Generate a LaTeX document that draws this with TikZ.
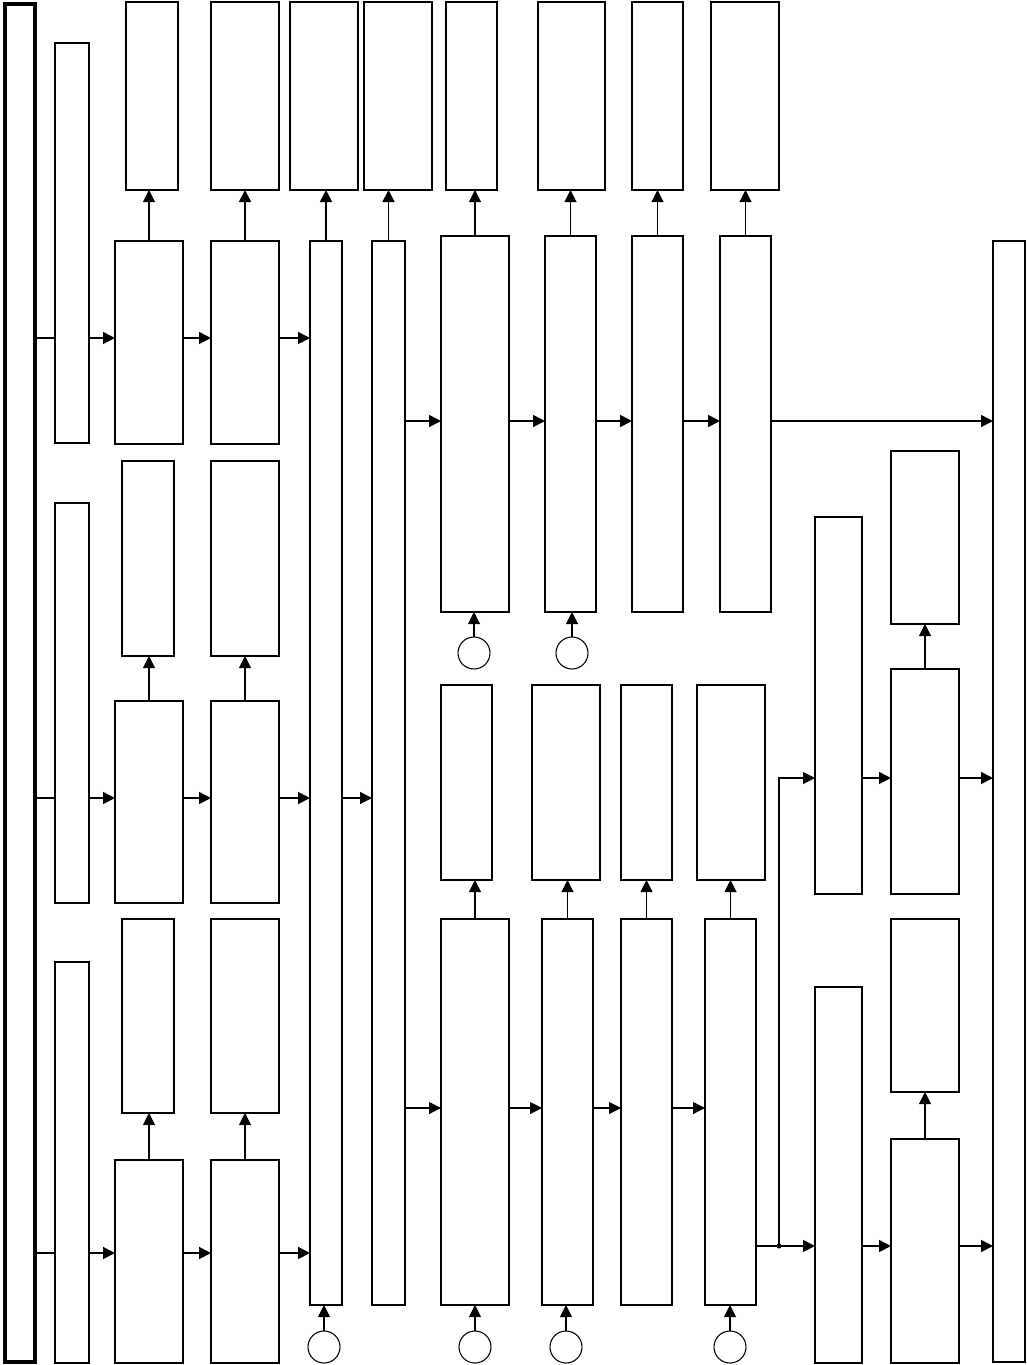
\documentclass[tikz,border=0pt]{standalone}
\usetikzlibrary{arrows.meta}
\tikzset{
  box/.style={draw, line width=0.8pt, inner sep=0pt, outer sep=0pt, fill=white},
  arr/.style={-{Triangle[length=9pt,width=9pt]}, line width=1.3pt},
  thinarr/.style={-{Triangle[length=9pt,width=9pt]}, line width=0.8pt},
  plain/.style={line width=1.3pt},
  circ/.style={draw, circle, line width=0.8pt, minimum size=24pt, inner sep=0pt, outer sep=0pt}
}
\newcommand\mybox[6][]{%
  \node[box,#1, minimum width={(#5-#3)*0.75pt}, minimum height={(#6-#4)*0.75pt}]
    (#2) at ({(#3+#5)/2},{(#4+#6)/2}) {};}
\begin{document}
\begin{tikzpicture}[x=0.75pt,y=-0.75pt]
\useasboundingbox (0,0) rectangle (1027,1365);
% big boxes
\mybox[line width=2.4pt]{L}{5}{4}{35}{1362}
\mybox[line width=1.6pt]{R}{993}{241}{1025}{1362}
% column 1
\mybox{c1a}{55}{43}{89}{443}
\mybox{c1b}{55}{503}{89}{903}
\mybox{c1c}{55}{962}{89}{1363}
% rows
\mybox{a2}{115}{241}{183}{444}
\mybox[line width=1.1pt]{a3}{211}{241}{279}{444}
\mybox{b2}{115}{701}{183}{903}
\mybox{b3}{211}{701}{279}{903}
\mybox{d2}{115}{1160}{183}{1363}
\mybox{d3}{211}{1160}{279}{1363}
\mybox{T1}{310}{241}{342}{1305}
\mybox{T2}{372}{241}{405}{1305}
% top outputs
\mybox{o1}{126}{2}{178}{190}
\mybox[line width=1.1pt]{o2}{211}{2}{279}{190}
\mybox[line width=1.1pt]{o3}{290}{2}{358}{190}
\mybox{o4}{364}{2}{432}{190}
\mybox[line width=1.1pt]{o5}{446}{2}{497}{190}
\mybox{o6}{538}{2}{605}{190}
\mybox{o7}{632}{2}{683}{190}
\mybox{o8}{711}{2}{779}{190}
% row 1 right chain
\mybox{e1}{441}{236}{509}{612}
\mybox{e2}{545}{236}{596}{612}
\mybox{e3}{632}{236}{683}{612}
\mybox{e4}{720}{236}{771}{612}
% row 2 and 3 outputs
\mybox{bo2}{122}{461}{174}{656}
\mybox{bo3}{211}{461}{279}{656}
\mybox{do2}{122}{919}{174}{1113}
\mybox{do3}{211}{919}{279}{1113}
% lower right chain
\mybox{f1}{441}{919}{509}{1305}
\mybox{f2}{542}{919}{593}{1305}
\mybox{f3}{621}{919}{672}{1305}
\mybox{f4}{705}{919}{756}{1305}
\mybox{fo1}{441}{685}{492}{880}
\mybox{fo2}{532}{685}{600}{880}
\mybox{fo3}{621}{685}{672}{880}
\mybox{fo4}{697}{685}{765}{880}
% right side
\mybox{g1}{815}{517}{862}{894}
\mybox{g2}{891}{669}{959}{894}
\mybox{go2}{891}{451}{959}{624}
\mybox{h1}{815}{987}{862}{1363}
\mybox{h2}{891}{1139}{959}{1363}
\mybox{ho2}{891}{919}{959}{1092}
% circles
\node[circ] (k1) at (474,653) {};
\node[circ] (k2) at (572,653) {};
\node[circ] (k3) at (324,1347) {};
\node[circ] (k4) at (475,1347) {};
\node[circ] (k5) at (566,1347) {};
\node[circ] (k6) at (730,1347) {};
% row coordinates
\coordinate (r1) at (0,338);
\coordinate (r2) at (0,798);
\coordinate (r3) at (0,1253);
\coordinate (r4) at (0,421);
\coordinate (r5) at (0,1108);
\coordinate (r6) at (0,1246);
\coordinate (r7) at (0,778);
\coordinate (dot) at (779,1246);
% up arrows
\foreach \s/\t in {a2/o1,e1/o5,e2/o6,e3/o7,e4/o8,b2/bo2,b3/bo3,d2/do2,d3/do3,f1/fo1,f2/fo2,f3/fo3,f4/fo4,g2/go2,h2/ho2}
  \draw[thinarr] (\s.north) -- (\s.north |- \t.south);
\foreach \s/\t in {a3/o2,T1/o3,T2/o4}
  \draw[arr] (\s.north) -- (\s.north |- \t.south);
\foreach \s/\t in {k1/e1,k2/e2,k3/T1,k4/f1,k5/f2,k6/f4}
  \draw[thinarr] (\s.north) -- (\s.north |- \t.south);
% row 1
\draw[plain] (L.east |- r1) -- (c1a.west |- r1);
\draw[arr] (c1a.east |- r1) -- (a2.west |- r1);
\draw[arr] (a2.east |- r1) -- (a3.west |- r1);
\draw[arr] (a3.east |- r1) -- (T1.west |- r1);
% row 2
\draw[plain] (L.east |- r2) -- (c1b.west |- r2);
\draw[arr] (c1b.east |- r2) -- (b2.west |- r2);
\draw[arr] (b2.east |- r2) -- (b3.west |- r2);
\draw[arr] (b3.east |- r2) -- (T1.west |- r2);
\draw[arr] (T1.east |- r2) -- (T2.west |- r2);
% row 3
\draw[plain] (L.east |- r3) -- (c1c.west |- r3);
\draw[arr] (c1c.east |- r3) -- (d2.west |- r3);
\draw[arr] (d2.east |- r3) -- (d3.west |- r3);
\draw[arr] (d3.east |- r3) -- (T1.west |- r3);
% upper chain
\draw[arr] (T2.east |- r4) -- (e1.west |- r4);
\draw[arr] (e1.east |- r4) -- (e2.west |- r4);
\draw[arr] (e2.east |- r4) -- (e3.west |- r4);
\draw[arr] (e3.east |- r4) -- (e4.west |- r4);
\draw[arr] (e4.east |- r4) -- (R.west |- r4);
% lower chain
\draw[thinarr] (T2.east |- r5) -- (f1.west |- r5);
\draw[thinarr] (f1.east |- r5) -- (f2.west |- r5);
\draw[thinarr] (f2.east |- r5) -- (f3.west |- r5);
\draw[thinarr] (f3.east |- r5) -- (f4.west |- r5);
% branch
\draw[arr] (f4.east |- r6) -- (h1.west |- r6);
\draw[thinarr] (dot) |- (g1.west |- r7);
\fill (dot) circle (2.5);
\draw[arr] (g1.east |- r7) -- (g2.west |- r7);
\draw[arr] (g2.east |- r7) -- (R.west |- r7);
\draw[arr] (h1.east |- r6) -- (h2.west |- r6);
\draw[arr] (h2.east |- r6) -- (R.west |- r6);
\end{tikzpicture}
\end{document}
